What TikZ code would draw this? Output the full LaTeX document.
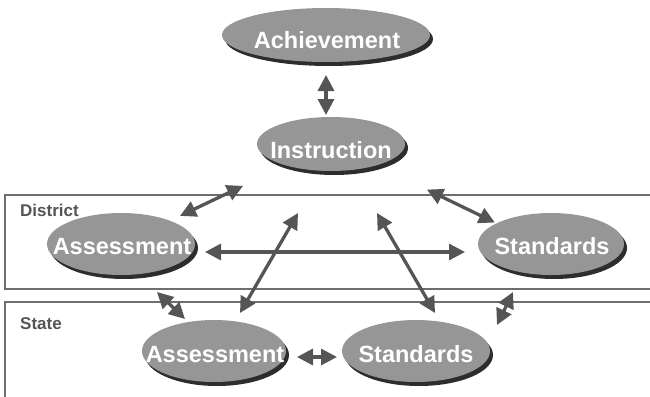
\documentclass[tikz,border=0pt]{standalone}
\usepackage{fontspec}
\setmainfont{Liberation Sans}
\usetikzlibrary{shapes.geometric,shadows,calc,arrows.meta}
\definecolor{arrowc}{RGB}{85,85,85}
\definecolor{ellfill}{RGB}{150,150,150}
\definecolor{shadowc}{RGB}{45,45,45}
\definecolor{boxc}{RGB}{110,110,110}
\definecolor{labc}{RGB}{85,85,85}
\begin{document}
\begin{tikzpicture}[x=1pt,y=-1pt,
  ell/.style={ellipse, fill=ellfill, inner sep=0pt, outer sep=0pt,
    drop shadow={shadow xshift=3pt, shadow yshift=-4pt, fill=shadowc, opacity=1}},
  etext/.style={text=white, font=\fontsize{23.5}{26}\selectfont\bfseries,
    inner sep=0pt, text height=16.8pt, text depth=0pt},
  arr/.style={draw=arrowc, line width=3.3pt,
    {Triangle[length=16pt,width=16pt]}-{Triangle[length=16pt,width=16pt]}},
  boxline/.style={draw=boxc, line width=2pt},
  lab/.style={text=labc, font=\fontsize{17}{19}\selectfont\bfseries,
    anchor=base west, inner sep=0pt}]
\useasboundingbox (0,0) rectangle (650,396);

% level boxes
\draw[boxline] (660,195) -- (5,195) -- (5,289) -- (660,289);
\draw[boxline] (660,302) -- (5,302) -- (5,400);
\node[lab] (district) at (20,216) {District};
\node[lab] (state) at (20,329) {State};

% ellipses
\node[ell, minimum width=208pt, minimum height=54pt] (ach) at (326,35) {};
\node[ell, minimum width=148pt, minimum height=54pt] (ins) at (331,144) {};
\node[ell, minimum width=148pt, minimum height=62pt] (da) at (121,244) {};
\node[ell, minimum width=146pt, minimum height=62pt] (ds) at (551,244) {};
\node[ell, minimum width=144pt, minimum height=62pt] (sa) at (214,351) {};
\node[ell, minimum width=148pt, minimum height=62pt] (ss) at (416,351) {};

\node[etext] (acht) at (327,40) {Achievement};
\node[etext] (inst) at (331,150) {Instruction};
\node[etext] (dat) at (122,246) {Assessment};
\node[etext] (dst) at (552,246) {Standards};
\node[etext] (sat) at (215,354) {Assessment};
\node[etext] (sst) at (416,354) {Standards};

% connectors
\draw[arr] ($(ach.south)+(0,13)$) -- ($(ach.south |- ins.north)+(0,-2)$);
\draw[arr] ($(ins)!0.419!(da)$) -- ($(ins)!0.719!(da)$);
\draw[arr] ($(ins)!0.436!(ds)+(0,2)$) -- ($(ins)!0.745!(ds)+(0,4)$);
\draw[arr] ($(da.east)+(10,8)$) -- ($(ds.west)+(-13,8)$);
\draw[arr] ($(sa.east)+(11,6)$) -- ($(ss.west)+(-5,6)$);
\draw[arr] ($(sa.north)+(26,-7)$) -- ($(ins.south)+(-33,42)$);
\draw[arr] ($(ins.south)+(46,42)$) -- ($(ss.north)+(19,-7)$);
\draw[arr] ($(da.south)+(36,17)$) -- ($(sa.north)+(-29,-1)$);
\draw[arr] ($(ds.south)+(-38,17)$) -- ($(ss.north)+(81,5)$);
\end{tikzpicture}
\end{document}
